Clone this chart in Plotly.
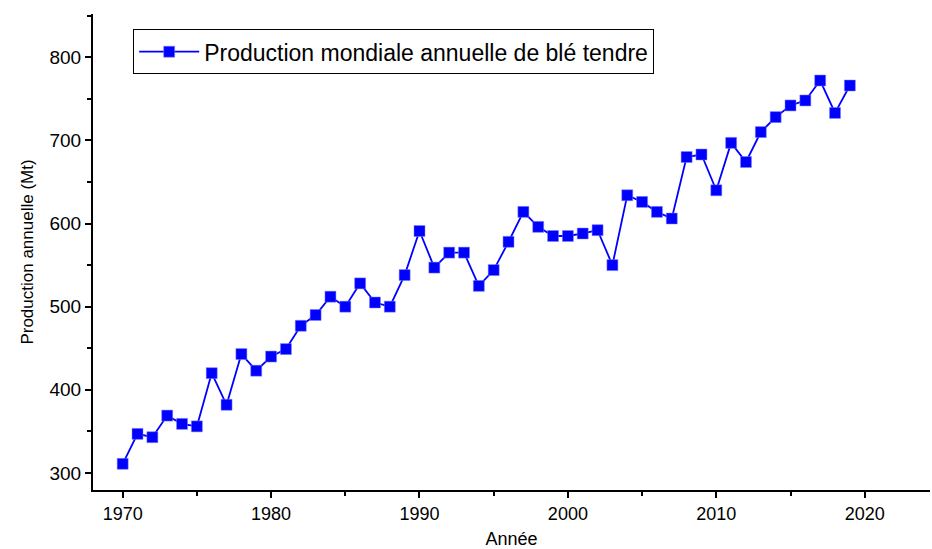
import plotly.graph_objects as go

# Production mondiale annuelle de blé tendre (Mt)
annees = list(range(1970, 2020))
production = [311, 347, 343, 369, 359, 356, 420, 382, 443, 423,
              440, 449, 477, 490, 512, 500, 528, 505, 500, 538,
              591, 547, 565, 565, 525, 544, 578, 614, 596, 585,
              585, 588, 592, 550, 634, 626, 614, 606, 680, 683,
              640, 697, 674, 710, 728, 742, 748, 772, 733, 766]

y_ticks = [300, 400, 500, 600, 700, 800]
x_ticks = [1970, 1980, 1990, 2000, 2010, 2020]

fig = go.Figure()
fig.add_trace(go.Scatter(
    x=annees, y=production,
    mode="lines+markers",
    name="Production mondiale annuelle de blé tendre",
    line=dict(color="#0000FF", width=1.8),
    marker=dict(symbol="square", size=11, color="#0000FF",
                line=dict(color="#8080FF", width=0.5)),
))

axe = dict(showline=True, linecolor="black", linewidth=2, showgrid=False,
           zeroline=False, ticks="outside", ticklen=6, tickwidth=1.5,
           tickcolor="black", mirror=False)

fig.update_layout(
    width=932, height=549,
    margin=dict(l=93, r=2, t=14, b=59),
    plot_bgcolor="white", paper_bgcolor="white",
    font=dict(family="Liberation Sans", color="black"),
    showlegend=True,
    legend=dict(x=0.048, y=0.968, xanchor="left", yanchor="top",
                bordercolor="black", borderwidth=1, bgcolor="white",
                font=dict(size=23), itemwidth=60, tracegroupgap=0),
    xaxis=dict(axe, range=[1968, 2024.4], tickvals=x_ticks,
               tickfont=dict(size=18),
               minor=dict(dtick=5, tick0=1970, ticks="outside", ticklen=4,
                          tickcolor="black", tickwidth=1.5),
               title=dict(text="Année", font=dict(size=18), standoff=12)),
    yaxis=dict(axe, range=[279.5, 852], tickvals=y_ticks,
               tickfont=dict(size=19),
               minor=dict(dtick=50, tick0=300, ticks="outside", ticklen=4,
                          tickcolor="black", tickwidth=1.5),
               title=dict(text="Production annuelle (Mt)",
                          font=dict(size=17), standoff=12)),
)

# pas de marge autour de la figure dans la page, pas de barre d'outils
fig.write_html("out.html", config={"displayModeBar": False},
               post_script="document.body.style.margin='0px';")
